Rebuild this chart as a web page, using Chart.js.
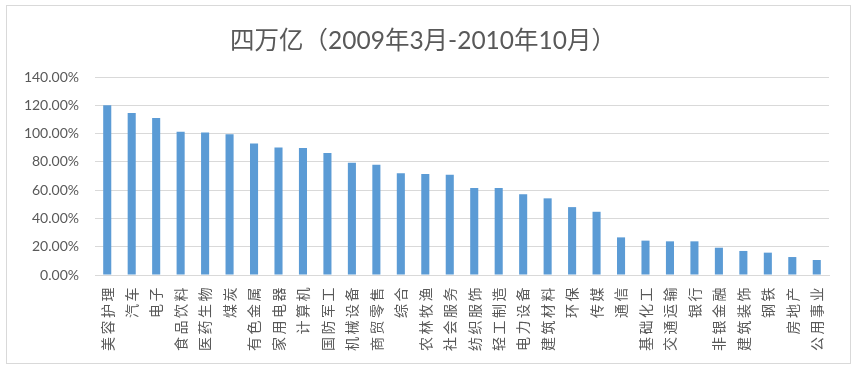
<!DOCTYPE html>
<html>
<head>
<meta charset="utf-8">
<script src="https://cdn.jsdelivr.net/npm/chart.js@4/dist/chart.umd.min.js"></script>
<style>
  html, body { margin: 0; padding: 0; background: #fff; }
  #wrap { width: 858px; height: 374px; position: relative; }
</style>
</head>
<body>
<div id="wrap"><canvas id="myChart"></canvas></div>
<script>
  const industries = ['美容护理', '汽车', '电子', '食品饮料', '医药生物', '煤炭', '有色金属', '家用电器', '计算机', '国防军工',
    '机械设备', '商贸零售', '综合', '农林牧渔', '社会服务', '纺织服饰', '轻工制造', '电力设备', '建筑材料', '环保',
    '传媒', '通信', '基础化工', '交通运输', '银行', '非银金融', '建筑装饰', '钢铁', '房地产', '公用事业'];
  const returns = [120.0, 114.5, 111.0, 101.2, 100.7, 99.5, 93.0, 90.2, 89.8, 86.3,
    79.3, 78.0, 71.9, 71.4, 70.8, 61.6, 61.6, 57.1, 54.2, 48.0,
    44.7, 26.6, 24.3, 23.8, 23.8, 19.3, 17.0, 15.8, 12.7, 10.6];
  const yTicks = [0, 20, 40, 60, 80, 100, 120, 140];
  const chartTitle = '四万亿（2009年3月-2010年10月）';

  const grey = '#595959';
  const gridGrey = '#d9d9d9';

  // white background + thin outer frame like the Excel chart
  const frame = {
    id: 'frame',
    beforeDraw(chart) {
      const ctx = chart.ctx;
      ctx.save();
      ctx.fillStyle = '#fff';
      ctx.fillRect(0, 0, chart.width, chart.height);
      ctx.strokeStyle = gridGrey;
      ctx.lineWidth = 1;
      ctx.strokeRect(6.5, 5.5, 844, 358);
      ctx.restore();
      // spaced-out category labels
      const xs = chart.scales.x;
      if (xs && !xs._spaced) {
        const orig = xs.drawLabels;
        xs.drawLabels = function (area) {
          const c = this.ctx;
          c.save();
          c.letterSpacing = '2.5px';
          orig.call(this, area);
          c.restore();
        };
        xs._spaced = true;
      }
    }
  };

  new Chart(document.getElementById('myChart'), {
    type: 'bar',
    data: {
      labels: industries,
      datasets: [{
        label: '涨幅',
        data: returns,
        backgroundColor: '#5b9bd5',
        borderWidth: 0,
        barPercentage: 0.33,
        categoryPercentage: 1.0
      }]
    },
    options: {
      responsive: true,
      maintainAspectRatio: false,
      animation: false,
      layout: { padding: { left: 17, right: 29, top: 0, bottom: 0 } },
      plugins: {
        legend: { display: false },
        tooltip: { enabled: false },
        title: {
          display: true,
          text: chartTitle,
          color: grey,
          font: { family: "Lato, 'Noto Sans CJK SC'", size: 24.5, weight: 'normal', lineHeight: 1.2 },
          padding: { top: 26, bottom: 21.6 }
        }
      },
      scales: {
        x: {
          grid: { display: false, drawTicks: false },
          border: { display: true, color: gridGrey, width: 1 },
          ticks: {
            color: grey,
            font: { family: "'Noto Sans CJK SC'", size: 14 },
            minRotation: 90,
            maxRotation: 90,
            autoSkip: false,
            padding: 10
          },
          afterFit(scale) { scale.height = 99; }
        },
        y: {
          min: 0,
          max: 140,
          afterBuildTicks(scale) { scale.ticks = yTicks.map(v => ({ value: v })); },
          grid: { color: gridGrey, lineWidth: 1, drawTicks: false },
          border: { display: false },
          ticks: {
            color: grey,
            font: { family: 'Lato', size: 14 },
            padding: 16,
            callback: v => v.toFixed(2) + '%'
          },
          afterFit(scale) { scale.width = 78; }
        }
      }
    },
    plugins: [frame]
  });
</script>
</body>
</html>
